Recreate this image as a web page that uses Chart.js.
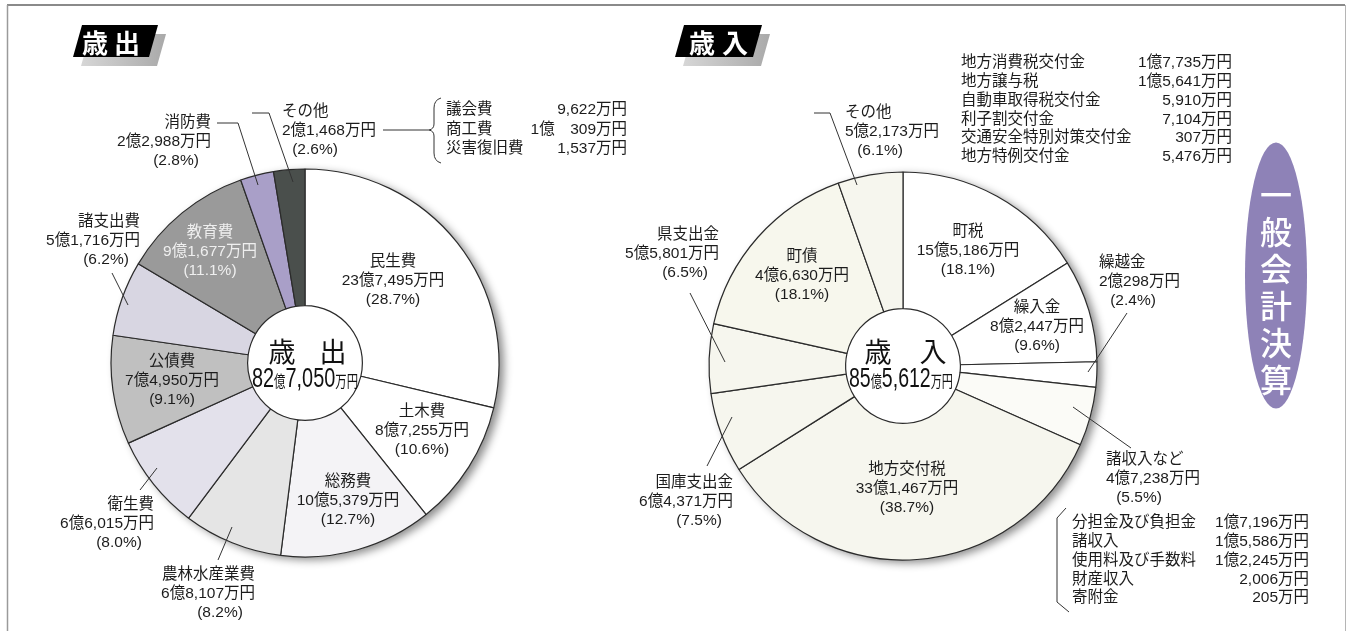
<!DOCTYPE html>
<html>
<head>
<meta charset="utf-8">
<script src="https://cdn.jsdelivr.net/npm/chart.js@4.4.1/dist/chart.umd.min.js"></script>
<style>
html,body{margin:0;padding:0;background:#fff;width:1349px;height:631px;overflow:hidden}
#wrap{position:relative;width:1349px;height:631px}
canvas{position:absolute;left:0;top:0}
</style>
</head>
<body>
<div id="wrap">
<canvas id="c1" width="1349" height="631"></canvas>
<canvas id="c2" width="1349" height="631"></canvas>
</div>
<script>
// ===== DATA (values in 万円) =====
// 歳出 (expenditure), clockwise from 12 o'clock
const expCategories = ['民生費','土木費','総務費','農林水産業費','衛生費','公債費','諸支出費','教育費','消防費','その他'];
const expValues     = [237495, 87255, 105379, 68107, 66015, 74950, 51716, 91677, 22988, 21468];
const expAmounts    = ['23億7,495万円','8億7,255万円','10億5,379万円','6億8,107万円','6億6,015万円','7億4,950万円','5億1,716万円','9億1,677万円','2億2,988万円','2億1,468万円'];
const expPercents   = ['(28.7%)','(10.6%)','(12.7%)','(8.2%)','(8.0%)','(9.1%)','(6.2%)','(11.1%)','(2.8%)','(2.6%)'];
const expTotalTitle = '歳出';
const expTotal      = '82億7,050万円';
const expOtherNames  = ['議会費','商工費','災害復旧費'];
const expOtherValues = ['9,622万円','1億　309万円','1,537万円'];

// 歳入 (revenue), clockwise from 12 o'clock
const revCategories = ['町税','繰入金','繰越金','諸収入など','地方交付税','国庫支出金','県支出金','町債','その他'];
// 町債: the printed label says 4億6,630万円, but the drawn slice spans ~58° (~16% of the circle);
// the value below is estimated from the drawn slice so the picture matches.
const revValues     = [155186, 82447, 20298, 47238, 331467, 64371, 55801, 155000, 52173];
const revAmounts    = ['15億5,186万円','8億2,447万円','2億298万円','4億7,238万円','33億1,467万円','6億4,371万円','5億5,801万円','4億6,630万円','5億2,173万円'];
const revPercents   = ['(18.1%)','(9.6%)','(2.4%)','(5.5%)','(38.7%)','(7.5%)','(6.5%)','(18.1%)','(6.1%)'];
const revTotalTitle = '歳入';
const revTotal      = '85億5,612万円';
const revOtherNames  = ['地方消費税交付金','地方譲与税','自動車取得税交付金','利子割交付金','交通安全特別対策交付金','地方特例交付金'];
const revOtherValues = ['1億7,735万円','1億5,641万円','5,910万円','7,104万円','307万円','5,476万円'];
const revMiscNames   = ['分担金及び負担金','諸収入','使用料及び手数料','財産収入','寄附金'];
const revMiscValues  = ['1億7,196万円','1億5,586万円','1億2,245万円','2,006万円','205万円'];
const badgeText = '一般会計決算';

// ===== STYLE / LAYOUT =====
const expColors = ['#ffffff','#ffffff','#f4f3f6','#e5e5e5','#e3e1eb','#c0c0c0','#d8d6e2','#9a9a9a','#a99fc8','#4a4f4c'];
const revColors = ['#ffffff','#ffffff','#ffffff','#fbfbf7','#f6f6ee','#f6f6ee','#f6f6ee','#f7f7ed','#f6f6ee'];
const LABEL_PX = 15.5, LINE_H = 19;
const TXT = '#1c1c1c';
function font(px, w){ return (w||'normal')+' '+px+'px "Liberation Sans","Noto Sans CJK JP",sans-serif'; }
function cjk(px, w){ return (w||'normal')+' '+px+'px "Noto Sans CJK JP",sans-serif'; }

const expLayout = {
  '民生費':{x:393,y:262}, '土木費':{x:422,y:412}, '総務費':{x:348,y:482},
  '農林水産業費':{x:255,y:575,align:'right',pctX:220},
  '衛生費':{x:154,y:505,align:'right',pctX:119},
  '公債費':{x:172,y:362},
  '諸支出費':{x:140,y:222,align:'right',pctX:106},
  '教育費':{x:210,y:233,color:'#efefef'},
  '消防費':{x:211,y:123,align:'right',pctX:176},
  'その他':{x:282,y:112,align:'left',pctX:315}
};
const revLayout = {
  '町税':{x:968,y:232}, '繰入金':{x:1037,y:308},
  '繰越金':{x:1099,y:263,align:'left',pctX:1133},
  '諸収入など':{x:1106,y:460,align:'left',pctX:1139},
  '地方交付税':{x:907,y:470},
  '国庫支出金':{x:733,y:483,align:'right',pctX:699},
  '県支出金':{x:719,y:235,align:'right',pctX:685},
  '町債':{x:802,y:257},
  'その他':{x:845,y:113,align:'left',pctX:880}
};
const expLeaders = [
  [[217,123],[238,123],[258,185]],
  [[252,113],[269,113],[293,182]],
  [[112,273],[128,305]],
  [[140,490],[157,468]],
  [[218,560],[232,527]],
  [[383,130],[429,130]]
];
const revLeaders = [
  [[690,293],[725,362]],
  [[707,466],[732,417]],
  [[814,113],[830,113],[857,185]],
  [[1127,313],[1088,372]],
  [[1073,407],[1131,448]]
];

function drawBlock(ctx, lines, L){
  ctx.font = font(LABEL_PX);
  ctx.fillStyle = L.color || TXT;
  ctx.textBaseline = 'middle';
  lines.forEach(function(t,i){
    var x = L.x, al = L.align || 'center';
    if(i===2 && L.pctX!=null){ x = L.pctX; al = 'center'; }
    ctx.textAlign = al;
    ctx.fillText(t, x, L.y + i*LINE_H);
  });
}
function drawLines(ctx, polys){
  ctx.save(); ctx.strokeStyle='#333'; ctx.lineWidth=1;
  polys.forEach(function(p){ ctx.beginPath(); p.forEach(function(pt,i){ if(i) ctx.lineTo(pt[0],pt[1]); else ctx.moveTo(pt[0],pt[1]); }); ctx.stroke(); });
  ctx.restore();
}
function drawList(ctx, names, values, nameX, valueX, y0, pitch){
  ctx.font = font(LABEL_PX); ctx.fillStyle = TXT; ctx.textBaseline='middle';
  names.forEach(function(n,i){
    ctx.textAlign='left'; ctx.fillText(n, nameX, y0+i*pitch);
    ctx.textAlign='right'; ctx.fillText(values[i], valueX, y0+i*pitch);
  });
}
function drawCenter(ctx, title, tx, tdx, amount, ax, targetW){
  ctx.save();
  ctx.fillStyle='#111'; ctx.textBaseline='middle'; ctx.textAlign='center';
  ctx.font = cjk(27);
  ctx.fillText(title[0], tx - tdx, 352);
  ctx.fillText(title[1], tx + tdx, 352);
  var runs = amount.split(/([0-9,]+)/).filter(function(s){return s;}).map(function(s){return {t:s,big:/^[0-9,]+$/.test(s)};});
  var bigF = 'normal 28px "Liberation Sans Narrow","Liberation Sans",sans-serif';
  var smallF = cjk(16);
  var total=0;
  runs.forEach(function(r){ ctx.font=r.big?bigF:smallF; r.w=ctx.measureText(r.t).width; total+=r.w; });
  var s = targetW/total;
  ctx.translate(ax, 387); ctx.scale(s,1);
  ctx.textAlign='left'; ctx.textBaseline='alphabetic';
  var x=-total/2;
  runs.forEach(function(r){ ctx.font=r.big?bigF:smallF; ctx.fillText(r.t,x,0); x+=r.w; });
  ctx.restore();
}
function drawBadge(ctx, pts, text, xs){
  ctx.save();
  var g = ctx.createLinearGradient(pts[0][0],0,pts[1][0]+10,0);
  g.addColorStop(0,'#d6d6d6'); g.addColorStop(1,'#a8a8a8');
  ctx.fillStyle=g;
  ctx.beginPath(); pts.forEach(function(p,i){ var X=p[0]+8,Y=p[1]+9; if(i) ctx.lineTo(X,Y); else ctx.moveTo(X,Y); }); ctx.closePath(); ctx.fill();
  ctx.fillStyle='#000';
  ctx.beginPath(); pts.forEach(function(p,i){ if(i) ctx.lineTo(p[0],p[1]); else ctx.moveTo(p[0],p[1]); }); ctx.closePath(); ctx.fill();
  ctx.fillStyle='#fff'; ctx.font=cjk(26,'bold'); ctx.textAlign='center'; ctx.textBaseline='middle';
  ctx.fillText(text[0], xs[0], 43); ctx.fillText(text[1], xs[1], 43);
  ctx.restore();
}

const shadowPlugin = {
  id:'pieShadow',
  beforeDatasetsDraw(chart){
    var a = chart.getDatasetMeta(0).data[0]; if(!a) return;
    var ctx = chart.ctx; ctx.save();
    ctx.shadowColor='rgba(0,0,0,0.45)'; ctx.shadowBlur=9; ctx.shadowOffsetX=5; ctx.shadowOffsetY=3;
    ctx.beginPath(); ctx.arc(a.x,a.y,a.outerRadius,0,Math.PI*2); ctx.fillStyle='#fff'; ctx.fill();
    ctx.restore();
  }
};

const pageDecor = {
  id:'pageDecor',
  beforeDraw(chart){
    var ctx = chart.ctx; ctx.save();
    ctx.strokeStyle='#8a8a8a'; ctx.lineWidth=2;
    ctx.beginPath(); ctx.moveTo(7,5); ctx.lineTo(1345,5); ctx.stroke();
    ctx.strokeStyle='#9a9a9a'; ctx.lineWidth=1.5;
    ctx.beginPath(); ctx.moveTo(7.5,5); ctx.lineTo(7.5,631); ctx.stroke();
    ctx.strokeStyle='#b5b5b5'; ctx.lineWidth=1;
    ctx.beginPath(); ctx.moveTo(1345.5,5); ctx.lineTo(1345.5,631); ctx.stroke();
    drawBadge(ctx, [[82,25],[158,25],[149,57],[73,57]], expTotalTitle, [95,127]);
    drawBadge(ctx, [[684,25],[762,25],[753,57],[675,57]], revTotalTitle, [702,735]);
    // vertical badge
    ctx.fillStyle='#8e82b7';
    ctx.beginPath(); ctx.ellipse(1276,275.5,31,133,0,0,Math.PI*2); ctx.fill();
    ctx.fillStyle='#fff'; ctx.font=cjk(32,'500'); ctx.textAlign='center'; ctx.textBaseline='middle';
    for(var i=0;i<badgeText.length;i++){ ctx.fillText(badgeText[i], 1276, 195 + i*37); }
    ctx.restore();
  }
};

const expLabels = {
  id:'expLabels',
  afterDraw(chart){
    var ctx = chart.ctx; ctx.save();
    expCategories.forEach(function(c,i){ drawBlock(ctx,[c,expAmounts[i],expPercents[i]],expLayout[c]); });
    drawLines(ctx, expLeaders);
    // bracket
    ctx.strokeStyle='#333'; ctx.lineWidth=1;
    ctx.beginPath(); ctx.moveTo(441,98); ctx.quadraticCurveTo(434,100,434,108); ctx.lineTo(434,124);
    ctx.quadraticCurveTo(434,129,429,130); ctx.quadraticCurveTo(434,131,434,136); ctx.lineTo(434,153);
    ctx.quadraticCurveTo(434,161,441,163); ctx.stroke();
    drawList(ctx, expOtherNames, expOtherValues, 446, 627, 110, 19.5);
    drawCenter(ctx, expTotalTitle, 307.5, 25.5, expTotal, 305, 106);
    ctx.restore();
  }
};
const revLabels = {
  id:'revLabels',
  afterDraw(chart){
    var ctx = chart.ctx; ctx.save();
    revCategories.forEach(function(c,i){ drawBlock(ctx,[c,revAmounts[i],revPercents[i]],revLayout[c]); });
    drawLines(ctx, revLeaders);
    ctx.strokeStyle='#333'; ctx.lineWidth=1;
    ctx.beginPath(); ctx.moveTo(1066,508); ctx.lineTo(1057,518); ctx.lineTo(1057,602); ctx.lineTo(1069,612); ctx.stroke();
    drawList(ctx, revOtherNames, revOtherValues, 961, 1232, 63, 18.8);
    drawList(ctx, revMiscNames, revMiscValues, 1072, 1309, 523, 18.8);
    drawCenter(ctx, revTotalTitle, 905.5, 27.5, revTotal, 901, 104);
    ctx.restore();
  }
};

function pie(id, cats, vals, cols, padding, plugins){
  return new Chart(document.getElementById(id), {
    type:'doughnut',
    data:{labels:cats, datasets:[{data:vals, backgroundColor:cols, borderColor:'#2b2b2b', borderWidth:1.2}]},
    options:{responsive:false, maintainAspectRatio:false, animation:false, events:[],
      radius:194, cutout:59, layout:{padding:padding},
      plugins:{legend:{display:false}, tooltip:{enabled:false}}},
    plugins:plugins
  });
}
pie('c1', expCategories, expValues, expColors, {left:105,right:844,top:163,bottom:68}, [pageDecor, shadowPlugin, expLabels]);
pie('c2', revCategories, revValues, revColors, {left:703,right:246,top:166,bottom:65}, [shadowPlugin, revLabels]);
</script>
</body>
</html>
